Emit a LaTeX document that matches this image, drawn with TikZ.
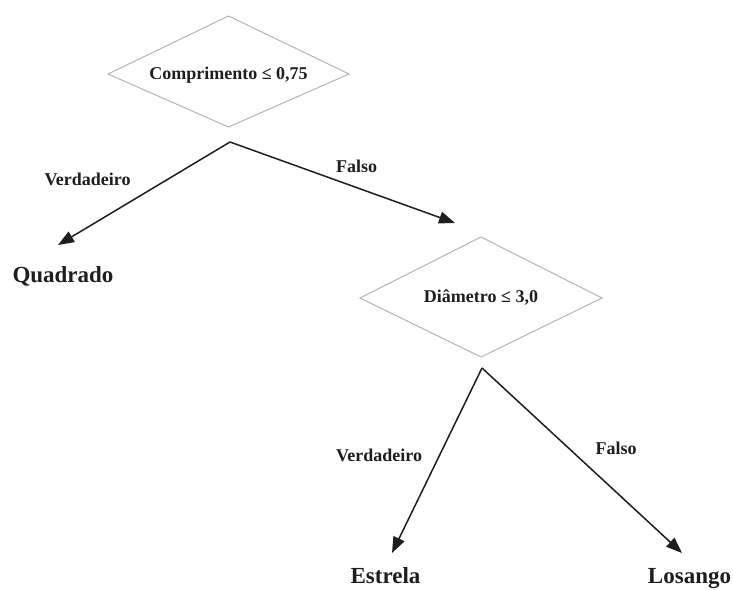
\documentclass[tikz,border=0pt]{standalone}
\usepackage{fontspec}
\setmainfont{Liberation Serif}
\usetikzlibrary{arrows.meta}
\definecolor{ink}{HTML}{1E1E1E}
\definecolor{rim}{HTML}{B4B4B4}
\tikzset{
  test/.style={text=ink, inner sep=0pt,
    font=\fontsize{18}{20}\selectfont\bfseries},
  rhomb/.style={draw=rim, line width=1pt, line join=miter},
  branch/.style={draw=ink, line width=1.5pt,
    -{Triangle[length=16pt,width=12pt]}},
  edgelabel/.style={anchor=base, text=ink, inner sep=0pt,
    font=\fontsize{18}{20}\selectfont\bfseries},
  leaf/.style={anchor=base, text=ink, inner sep=0pt,
    font=\fontsize{23}{26}\selectfont\bfseries}
}
\begin{document}
\begin{tikzpicture}[x=1pt,y=-1pt]
\useasboundingbox[fill=white] (0,0) rectangle (733,589);

% decision nodes: text with a rhombus drawn round its centre
\node[test] (d1) at (228.5,75) {Comprimento ≤ 0,75};
\node[test] (d2) at (481,298) {Diâmetro ≤ 3,0};
\draw[rhomb] (d1.center) ++(0,-59) -- ++(120.5,58) -- ++(-120.5,53) -- ++(-120.5,-53) -- cycle;
\draw[rhomb] (d2.center) ++(0,-61) -- ++(121,61) -- ++(-121,59) -- ++(-121,-59) -- cycle;

% leaves
\node[leaf] (quad) at (63,282) {Quadrado};
\node[leaf] (estr) at (385.5,583) {Estrela};
\node[leaf] (los)  at (689.5,583) {Losango};

% branch roots and tips
\coordinate (r1) at (230,142);
\coordinate (r2) at (482,368);
\coordinate (t1) at (58,245);
\coordinate (t2) at (455,223);
\coordinate (t3) at (392,553);
\coordinate (t4) at (682,553);

\draw[branch] (r1) -- (t1);
\draw[branch] (r1) -- (t2);
\draw[branch] (r2) -- (t3);
\draw[branch] (r2) -- (t4);

% branch labels
\node[edgelabel] (v1) at (87.5,185) {Verdadeiro};
\node[edgelabel] (f1) at (356.5,172) {Falso};
\node[edgelabel] (v2) at (379,461) {Verdadeiro};
\node[edgelabel] (f2) at (616,454) {Falso};
\end{tikzpicture}
\end{document}
